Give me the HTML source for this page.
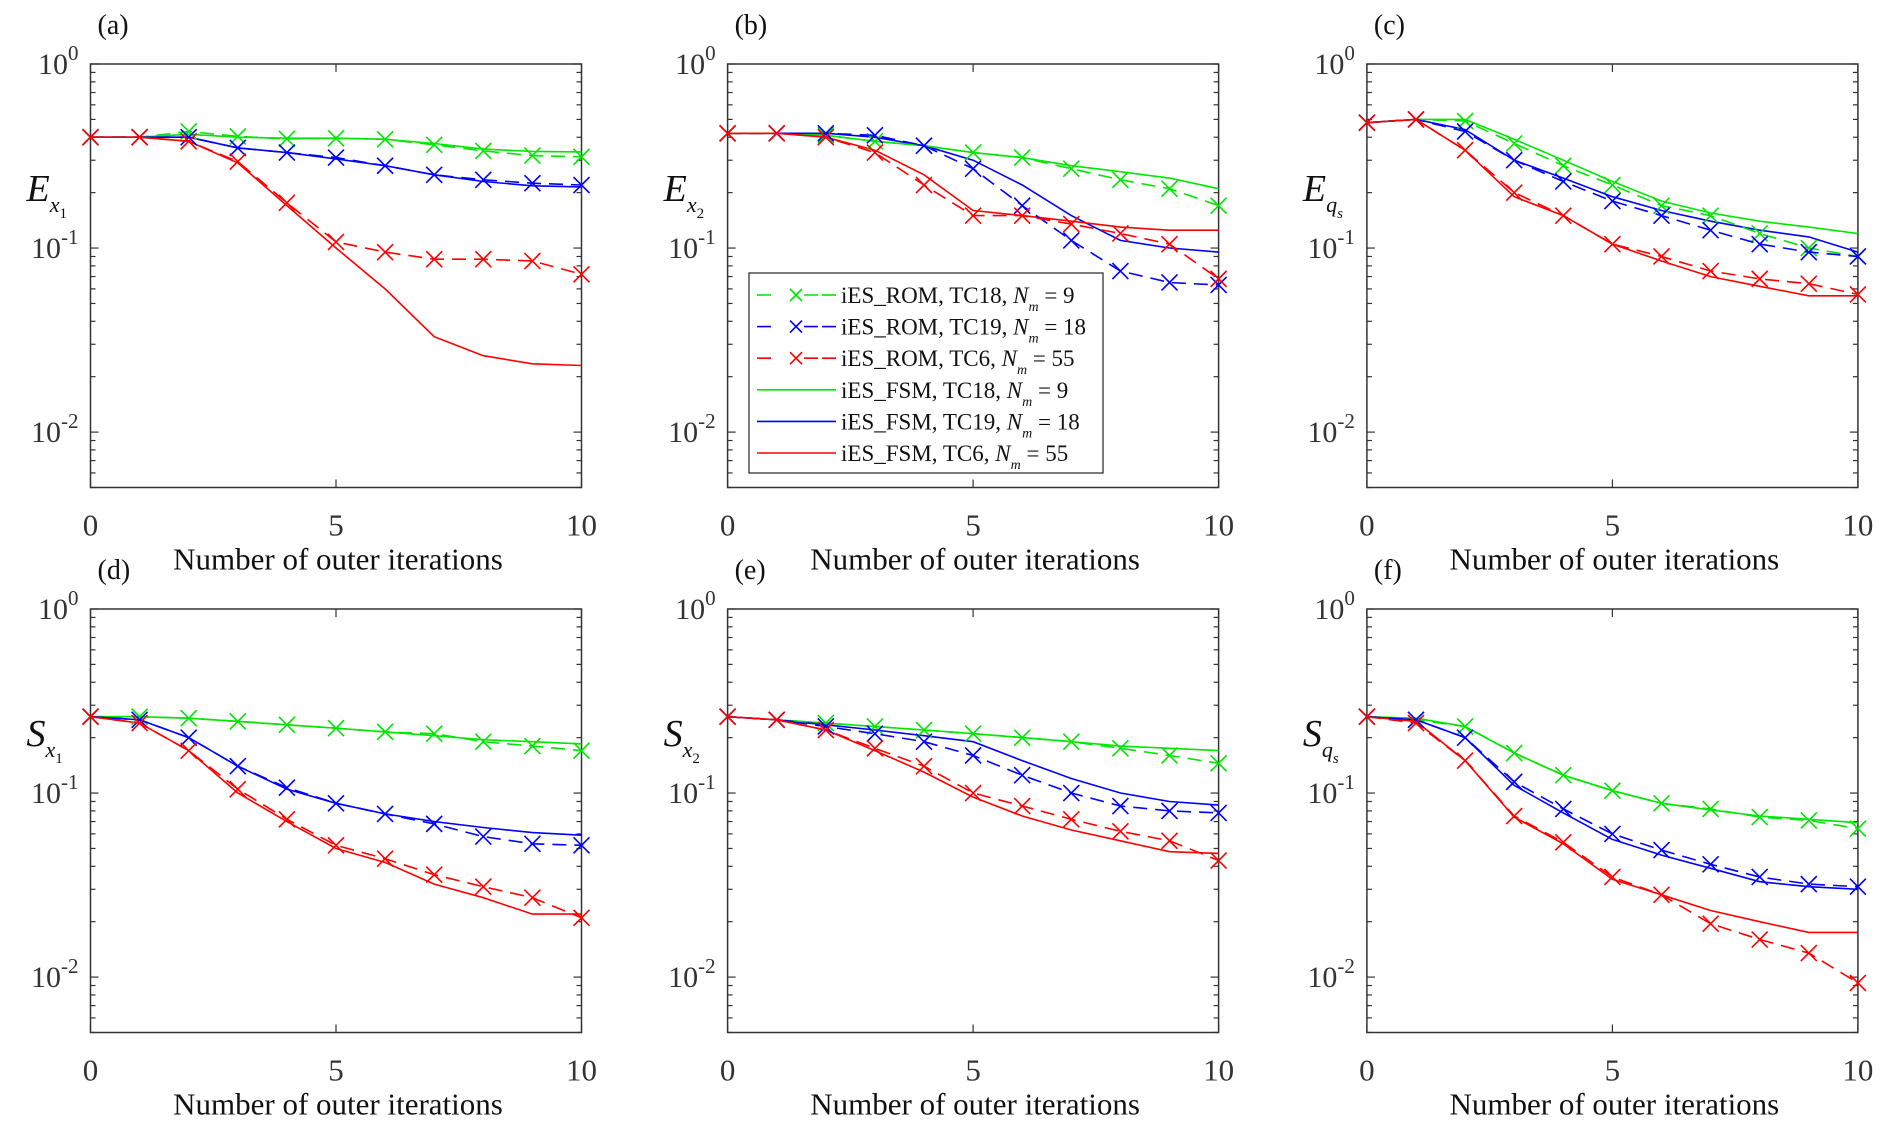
<!DOCTYPE html>
<html><head><meta charset="utf-8"><style>
html,body{margin:0;padding:0;background:#fff;}
svg, svg text{font-family:"Liberation Serif","Times New Roman",serif;}
</style></head><body>
<svg id="fig" width="1892" height="1134" viewBox="0 0 1892 1134" font-family="Liberation Serif, serif" xmlns="http://www.w3.org/2000/svg"></svg>
<script>
const iterations=[0,1,2,3,4,5,6,7,8,9,10];
const seriesNames=["iES_ROM, TC18","iES_ROM, TC19","iES_ROM, TC6","iES_FSM, TC18","iES_FSM, TC19","iES_FSM, TC6"];
const nmValues=[9,18,55,9,18,55];
// panel (a) E_x1
const aRom18=[0.40,0.40,0.43,0.404,0.392,0.395,0.39,0.364,0.337,0.318,0.313];
const aRom19=[0.40,0.40,0.40,0.35,0.33,0.31,0.28,0.25,0.235,0.225,0.22];
const aRom6=[0.40,0.40,0.38,0.295,0.176,0.108,0.095,0.087,0.087,0.085,0.072];
const aFsm18=[0.40,0.40,0.415,0.40,0.395,0.395,0.39,0.37,0.345,0.335,0.333];
const aFsm19=[0.40,0.40,0.40,0.35,0.33,0.305,0.28,0.25,0.23,0.218,0.215];
const aFsm6=[0.40,0.40,0.38,0.29,0.17,0.10,0.06,0.033,0.026,0.0235,0.023];
// panel (b) E_x2
const bRom18=[0.42,0.42,0.41,0.38,0.36,0.33,0.31,0.27,0.235,0.21,0.17];
const bRom19=[0.42,0.42,0.42,0.41,0.36,0.27,0.17,0.11,0.075,0.065,0.063];
const bRom6=[0.42,0.42,0.40,0.33,0.22,0.15,0.15,0.135,0.12,0.105,0.068];
const bFsm18=[0.42,0.42,0.41,0.38,0.36,0.33,0.31,0.28,0.26,0.24,0.21];
const bFsm19=[0.42,0.42,0.42,0.40,0.36,0.30,0.22,0.15,0.11,0.10,0.095];
const bFsm6=[0.42,0.42,0.40,0.34,0.25,0.16,0.15,0.14,0.13,0.125,0.125];
// panel (c) E_qs
const cRom18=[0.48,0.50,0.49,0.37,0.28,0.22,0.17,0.15,0.12,0.10,0.09];
const cRom19=[0.48,0.50,0.43,0.30,0.23,0.18,0.15,0.125,0.105,0.095,0.09];
const cRom6=[0.48,0.50,0.34,0.20,0.15,0.105,0.09,0.075,0.068,0.064,0.056];
const cFsm18=[0.48,0.50,0.50,0.39,0.30,0.23,0.18,0.155,0.14,0.13,0.12];
const cFsm19=[0.48,0.50,0.44,0.30,0.24,0.19,0.16,0.14,0.125,0.115,0.095];
const cFsm6=[0.48,0.50,0.34,0.19,0.15,0.105,0.085,0.07,0.062,0.055,0.055];
// panel (d) S_x1
const dRom18=[0.26,0.26,0.255,0.245,0.235,0.225,0.215,0.21,0.19,0.18,0.17];
const dRom19=[0.26,0.25,0.20,0.14,0.107,0.088,0.077,0.068,0.058,0.053,0.052];
const dRom6=[0.26,0.24,0.17,0.105,0.072,0.052,0.044,0.036,0.031,0.027,0.021];
const dFsm18=[0.26,0.26,0.255,0.245,0.235,0.225,0.215,0.205,0.195,0.19,0.185];
const dFsm19=[0.26,0.25,0.20,0.14,0.105,0.088,0.077,0.07,0.065,0.061,0.059];
const dFsm6=[0.26,0.24,0.17,0.10,0.07,0.05,0.042,0.032,0.027,0.022,0.022];
// panel (e) S_x2
const eRom18=[0.26,0.25,0.24,0.23,0.22,0.21,0.20,0.19,0.175,0.16,0.145];
const eRom19=[0.26,0.25,0.23,0.21,0.19,0.16,0.125,0.10,0.085,0.08,0.078];
const eRom6=[0.26,0.25,0.22,0.175,0.14,0.10,0.085,0.072,0.062,0.055,0.043];
const eFsm18=[0.26,0.25,0.24,0.23,0.22,0.21,0.20,0.19,0.18,0.175,0.17];
const eFsm19=[0.26,0.25,0.235,0.22,0.205,0.19,0.15,0.12,0.10,0.09,0.086];
const eFsm6=[0.26,0.25,0.22,0.17,0.13,0.095,0.075,0.063,0.055,0.048,0.047];
// panel (f) S_qs
const fRom18=[0.26,0.25,0.23,0.165,0.125,0.103,0.088,0.082,0.074,0.071,0.064];
const fRom19=[0.26,0.25,0.20,0.115,0.082,0.06,0.049,0.041,0.035,0.032,0.031];
const fRom6=[0.26,0.24,0.15,0.075,0.054,0.035,0.028,0.0195,0.016,0.0135,0.0093];
const fFsm18=[0.26,0.255,0.23,0.165,0.125,0.103,0.088,0.081,0.075,0.072,0.069];
const fFsm19=[0.26,0.25,0.20,0.11,0.078,0.056,0.046,0.039,0.033,0.031,0.030];
const fFsm6=[0.26,0.245,0.15,0.074,0.053,0.034,0.028,0.023,0.020,0.0175,0.0175];
const xTicks=[0,5,10];
const yTickExp=[0,-1,-2];

const NS="http://www.w3.org/2000/svg";
const FONT="Liberation Serif, Times New Roman, serif";
const svg=document.getElementById('fig');
function mk(tag,attrs,parent){const e=document.createElementNS(NS,tag);for(const k in attrs)e.setAttribute(k,attrs[k]);if(tag==='text')e.setAttribute('font-family',FONT);(parent||svg).appendChild(e);return e;}
const colors=["#00e600","#0000ff","#ff0000"];
const panels=[
 {id:"a",L:90.5,T:64,ylab:"E",sub:"x",sub2:"1",data:[aRom18,aRom19,aRom6,aFsm18,aFsm19,aFsm6]},
 {id:"b",L:727.6,T:64,ylab:"E",sub:"x",sub2:"2",data:[bRom18,bRom19,bRom6,bFsm18,bFsm19,bFsm6]},
 {id:"c",L:1366.9,T:64,ylab:"E",sub:"q",sub2:"s",data:[cRom18,cRom19,cRom6,cFsm18,cFsm19,cFsm6]},
 {id:"d",L:90.5,T:609,ylab:"S",sub:"x",sub2:"1",data:[dRom18,dRom19,dRom6,dFsm18,dFsm19,dFsm6]},
 {id:"e",L:727.6,T:609,ylab:"S",sub:"x",sub2:"2",data:[eRom18,eRom19,eRom6,eFsm18,eFsm19,eFsm6]},
 {id:"f",L:1366.9,T:609,ylab:"S",sub:"q",sub2:"s",data:[fRom18,fRom19,fRom6,fFsm18,fFsm19,fFsm6]}];
const W=491,H=423.5,YMIN=Math.log10(0.005),YMAX=0;
panels.forEach(p=>{
 const g=mk('g',{});
 
 
 const xs=v=>p.L+v/10*W;
 const ys=v=>p.T+(YMAX-Math.log10(v))/(YMAX-YMIN)*H;
 const frame=mk('rect',{x:p.L,y:p.T,width:W,height:H,fill:'none',stroke:'#333','stroke-width':1.5},g);
 
 
 for(let e=-3;e<=0;e++){for(let m=1;m<10;m++){const v=m*Math.pow(10,e);if(v<0.005||v>1)continue;const y=ys(v);const len=m===1?8:5;
  mk('line',{x1:p.L,x2:p.L+len,y1:y,y2:y,stroke:'#333','stroke-width':1.2},g);
  mk('line',{x1:p.L+W,x2:p.L+W-len,y1:y,y2:y,stroke:'#333','stroke-width':1.2},g);}}
 yTickExp.forEach(e=>{const t=mk('text',{x:p.L-12,y:ys(Math.pow(10,e))+10,'text-anchor':'end','font-size':30,fill:'#333'},g);
  
  t.innerHTML='10<tspan dy="-14" font-size="21">'+e+'</tspan>';});
 xTicks.forEach(v=>{const x=xs(v);
  mk('line',{x1:x,x2:x,y1:p.T+H,y2:p.T+H-8,stroke:'#333','stroke-width':1.2},g);
  mk('line',{x1:x,x2:x,y1:p.T,y2:p.T+8,stroke:'#333','stroke-width':1.2},g);
  const t=mk('text',{x:x,y:p.T+H+48,'text-anchor':'middle','font-size':31,fill:'#333'},g);
  t.textContent=v;});
 const xl=mk('text',{x:p.L+W/2+2,y:p.T+H+82,'text-anchor':'middle','font-size':31,fill:'#111'},g);
 xl.textContent='Number of outer iterations';
 const pl=mk('text',{x:p.L+7,y:p.T-30,'font-size':28,fill:'#111'},g);
 pl.textContent='('+p.id+')';
 const yl=mk('text',{x:p.L-64,y:p.T+137,'font-size':38,'font-style':'italic',fill:'#111'},g);
 
 yl.innerHTML=p.ylab+'<tspan dy="11" font-size="22">'+p.sub+'</tspan><tspan dy="6" font-size="15" font-style="'+(p.sub2==='s'?'italic':'normal')+'">'+p.sub2+'</tspan>';
 [3,4,5,0,1,2].forEach(si=>{const vals=p.data[si];const dashed=si<3;
  const pts=iterations.map((it,i)=>xs(it).toFixed(1)+','+ys(vals[i]).toFixed(1)).join(' ');
  const pl2=mk('polyline',{points:pts,fill:'none',stroke:colors[si%3],'stroke-width':1.6,'stroke-dasharray':dashed?'14,8':'none'},g);
  
  
  if(dashed){iterations.forEach((it,i)=>{const x=xs(it),y=ys(vals[i]),s=8;
   const m=mk('path',{d:`M${x-s},${y-s}L${x+s},${y+s}M${x-s},${y+s}L${x+s},${y-s}`,stroke:colors[si%3],'stroke-width':1.6,fill:'none'},g);
   });}
 });
});
const lg=mk('g',{});


mk('rect',{x:749,y:273,width:354,height:200,fill:'#fff',stroke:'#333','stroke-width':1.3},lg);
seriesNames.forEach((n,i)=>{const y=295+i*31.6;const c=colors[i%3];
 const e=mk('g',{},lg);
 
 
 mk('line',{x1:757,x2:836,y1:y,y2:y,stroke:c,'stroke-width':1.6,'stroke-dasharray':i<3?'14,33':'none'},e);
 if(i<3){mk('line',{x1:822,x2:836,y1:y,y2:y,stroke:c,'stroke-width':1.6},e);
  mk('path',{d:`M${790},${y-6}L${802},${y+6}M${790},${y+6}L${802},${y-6}`,stroke:c,'stroke-width':1.6},e);}
 const t=mk('text',{x:841,y:y+8,'font-size':23,fill:'#111'},e);
 t.innerHTML=n+', <tspan font-style="italic">N</tspan><tspan dy="8" font-size="14" font-style="italic">m</tspan><tspan dy="-8"> = '+nmValues[i]+'</tspan>';
});
</script>
</body></html>
